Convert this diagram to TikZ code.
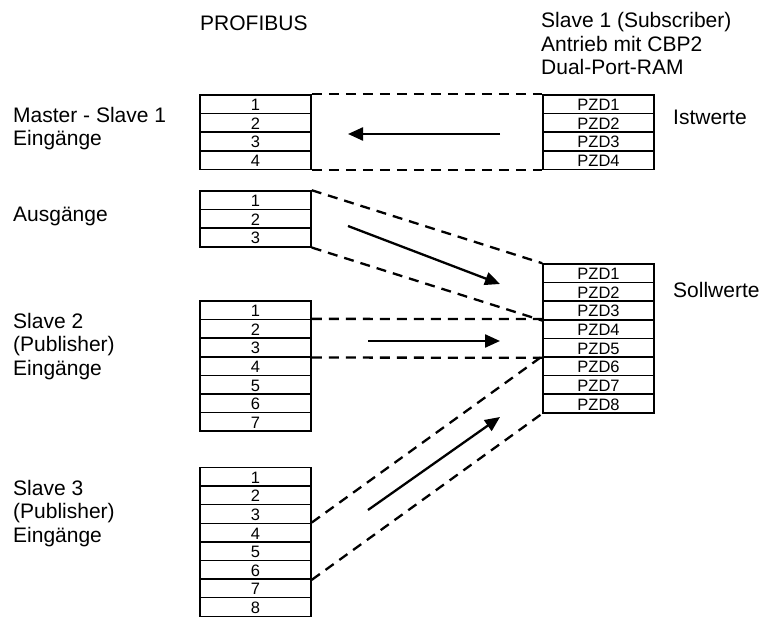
\documentclass[tikz,border=0pt]{standalone}
\usepackage{fontspec}
\setmainfont{Liberation Sans}
\usetikzlibrary{arrows.meta}
\begin{document}
\begin{tikzpicture}[x=1pt,y=-1pt,
  cell/.style={draw, line width=1.5pt, minimum width=111pt, minimum height=18.6pt, inner sep=0pt, text height=13pt, text depth=0pt, font=\fontsize{16.5}{16.5}\selectfont},
  link/.style={line width=2.3pt, dash pattern=on 10pt off 7pt},
  flow/.style={line width=2.3pt, -{Triangle[length=15pt,width=13pt]}},
  lbl/.style={anchor=base west, align=left, inner sep=0pt, font=\fontsize{21}{23.5}\selectfont}]
\useasboundingbox (0,0) rectangle (760,617);
% left blocks
\foreach \i in {1,...,4} \node[cell] (m\i) at (255.5,{95+18.6*(\i-0.5)}) {\i};
\foreach \i in {1,...,3} \node[cell] (o\i) at (255.5,{191+18.6*(\i-0.5)}) {\i};
\foreach \i in {1,...,7} \node[cell] (p\i) at (255.5,{301+18.6*(\i-0.5)}) {\i};
\foreach \i in {1,...,8} \node[cell] (q\i) at (255.5,{467.5+18.6*(\i-0.5)}) {\i};
% right blocks
\foreach \i in {1,...,4} \node[cell] (s\i) at (598.5,{95+18.6*(\i-0.5)}) {PZD\i};
\foreach \i in {1,...,8} \node[cell] (t\i) at (598.5,{264+18.6*(\i-0.5)}) {PZD\i};
% dashed connections
\draw[link] (m1.north east) -- (s1.north west);
\draw[link] (m4.south east) -- (s4.south west);
\draw[link] (o1.north east) -- (t1.north west);
\draw[link] (o3.south east) -- (t3.south west);
\draw[link] (p2.north east) -- (t4.north west);
\draw[link] (p3.south east) -- (t5.south west);
\draw[link] (q4.north east) -- (t6.north west);
\draw[link] (q6.south east) -- (t8.south west);
% flow arrows
\coordinate (f1a) at (500,134); \coordinate (f1b) at (348,134);
\coordinate (f2a) at (348,226); \coordinate (f2b) at (500,284);
\coordinate (f3a) at (368,341); \coordinate (f3b) at (500,341);
\coordinate (f4a) at (368,510); \coordinate (f4b) at (500,417);
\draw[flow] (f1a) -- (f1b);
\draw[flow] (f2a) -- (f2b);
\draw[flow] (f3a) -- (f3b);
\draw[flow] (f4a) -- (f4b);
% labels (multi-line nodes: base = last line)
\node[lbl] (hp) at (200,31) {PROFIBUS};
\node[lbl] (hs) at (541,75) {Slave 1 (Subscriber)\\Antrieb mit CBP2\\Dual-Port-RAM};
\node[lbl] (li) at (673,125) {Istwerte};
\node[lbl] (ls) at (673,298) {Sollwerte};
\node[lbl] (l1) at (13,146) {Master - Slave 1\\Eingänge};
\node[lbl] (l2) at (13,222) {Ausgänge};
\node[lbl] (l3) at (13,375) {Slave 2\\(Publisher)\\Eingänge};
\node[lbl] (l4) at (13,542) {Slave 3\\(Publisher)\\Eingänge};
\end{tikzpicture}
\end{document}
